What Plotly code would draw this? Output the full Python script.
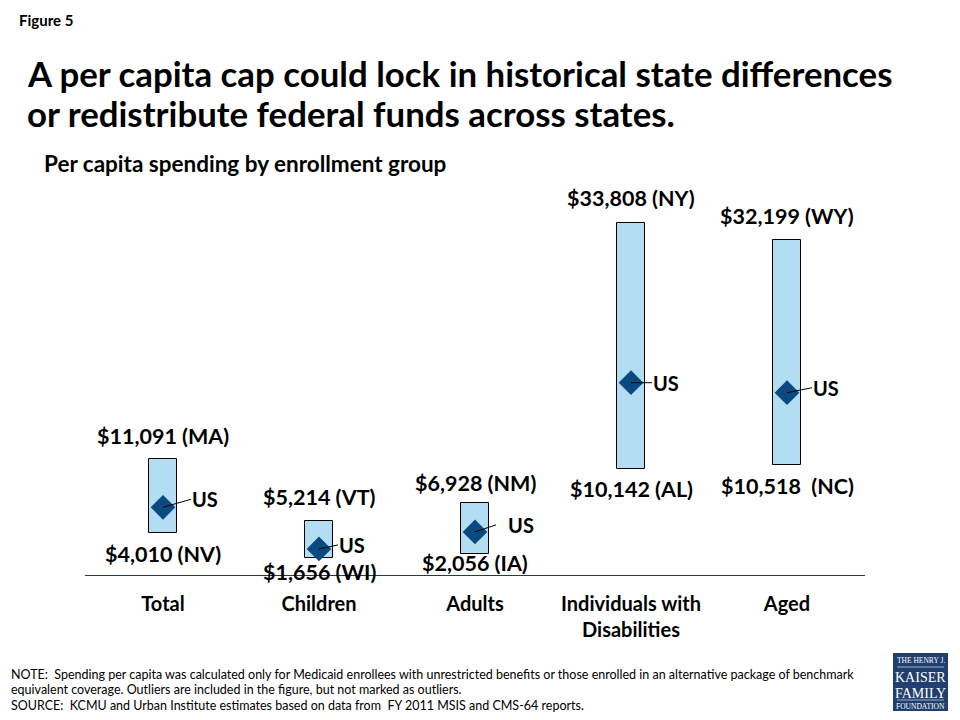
import plotly.graph_objects as go

# ---- data ----
categories = ["Total", "Children", "Adults", "Individuals with<br>Disabilities", "Aged"]
min_values = [4010, 1656, 2056, 10142, 10518]
max_values = [11091, 5214, 6928, 33808, 32199]
min_states = ["NV", "WI", "IA", "AL", "NC"]
max_states = ["MA", "VT", "NM", "NY", "WY"]
us_values = [6500, 2500, 4140, 18460, 17500]

FONT = "Lato"
BAR_FILL = "#b3ddf3"
DIAMOND = "#0b4a80"
TEXT = "#000000"

# page offset (browser body margin) -- positions below are page pixels
OFF = 8
W, H = 960 - OFF, 720 - OFF
L, R, T, B = 85 - OFF, 95, 200 - OFF, 145
pw, ph = W - L - R, H - T - B


def px(xp):
    return (xp - OFF - L) / pw


def py(yp):
    return (H - (yp - OFF) - B) / ph


fig = go.Figure()

fig.add_trace(go.Bar(
    x=categories,
    y=[mx - mn for mx, mn in zip(max_values, min_values)],
    base=min_values,
    width=0.175,
    marker=dict(color=BAR_FILL, line=dict(color="#000000", width=1)),
    hoverinfo="skip",
    showlegend=False,
))

fig.add_trace(go.Scatter(
    x=categories,
    y=us_values,
    mode="markers",
    marker=dict(symbol="diamond", size=19, color=DIAMOND, line=dict(width=0)),
    showlegend=False,
    hoverinfo="skip",
))

# label offsets (pixels) -- styling only
max_shift = [8, 9, 5, 10, 9]
min_shift = [-6, 1, 6, -5, -6]
us_ax = [28, 19, 21, 21, 25]
us_ay = [-8, -4, -7, 0, -5]
us_text = ["US", "US", "&#8202;&#8202;&#8202;&#8202;&#8202; US", "US", "US"]
min_fmt = ["${:,} ({})", "${:,} ({})", "${:,} ({})", "${:,} ({})", "${:,}  ({})"]

VAL_SIZE = 21.5
annotations = []
for i, c in enumerate(categories):
    annotations.append(dict(
        x=c, y=max_values[i], xref="x", yref="y",
        text=f"<b>${max_values[i]:,} ({max_states[i]})</b>",
        showarrow=False, yanchor="bottom", yshift=max_shift[i],
        font=dict(family=FONT, size=VAL_SIZE, color=TEXT),
    ))
    annotations.append(dict(
        x=c, y=min_values[i], xref="x", yref="y",
        text="<b>" + min_fmt[i].format(min_values[i], min_states[i]).replace("  ", "&nbsp; ") + "</b>",
        showarrow=False, yanchor="top", yshift=min_shift[i],
        font=dict(family=FONT, size=VAL_SIZE, color=TEXT),
    ))
    annotations.append(dict(
        x=c, y=us_values[i], xref="x", yref="y",
        text="<b>" + us_text[i] + "</b>", showarrow=True, arrowhead=0, arrowwidth=1,
        arrowcolor="#000000", ax=us_ax[i], ay=us_ay[i], standoff=0,
        xanchor="left", yanchor="middle", borderpad=0,
        font=dict(family=FONT, size=20, color=TEXT),
    ))


def page_text(text, x, y, size, bold=False, family=FONT, anchor="left", color=TEXT):
    return dict(text=f"<b>{text}</b>" if bold else text, x=px(x), y=py(y),
                xref="paper", yref="paper", showarrow=False,
                xanchor=anchor, yanchor="middle",
                font=dict(family=family, size=size, color=color))


annotations += [
    page_text("Figure 5", 17, 20, 15, bold=True),
    page_text("A per capita cap could lock in historical state differences", 25, 73, 34.8, bold=True),
    page_text("or redistribute federal funds across states.", 25, 113, 34.8, bold=True),
    page_text("Per capita spending by enrollment group", 42, 163, 22.5, bold=True),
    page_text("NOTE:  Spending per capita was calculated only for Medicaid enrollees with unrestricted benefits or those enrolled in an alternative package of benchmark",
              9, 674, 12.5),
    page_text("equivalent coverage. Outliers are included in the figure, but not marked as outliers.",
              9, 689, 12.5),
    page_text("SOURCE:  KCMU and Urban Institute estimates based on data from  FY 2011 MSIS and CMS-64 reports.",
              9, 705, 12.5),
]

# logo text
annotations += [
    page_text("THE HENRY J.", 920.5, 660, 7.5, family="Liberation Serif", anchor="center", color="white"),
    page_text("KAISER", 920.5, 677, 14, family="Liberation Serif", anchor="center", color="white"),
    page_text("FAMILY", 920.5, 693, 14, family="Liberation Serif", anchor="center", color="white"),
    page_text("FOUNDATION", 920.5, 706, 7.5, family="Liberation Serif", anchor="center", color="white"),
]

fig.update_layout(
    width=W, height=H,
    margin=dict(l=L, r=R, t=T, b=B),
    paper_bgcolor="white", plot_bgcolor="white",
    bargap=0,
    xaxis=dict(
        type="category", showline=True, linecolor="#1f3a5c", linewidth=1,
        ticks="", showgrid=False, zeroline=False,
        tickfont=dict(family=FONT, size=20, color=TEXT),
        tickvals=categories,
        ticktext=["<b>" + c + "</b>" for c in categories],
        ticklabelstandoff=11,
    ),
    yaxis=dict(range=[0, 36000], visible=False, showgrid=False, zeroline=False),
    font=dict(family=FONT),
    annotations=annotations,
)

fig.add_shape(type="rect", xref="paper", yref="paper",
              x0=px(893), x1=px(948), y0=py(711), y1=py(653),
              fillcolor="#203f6f", line=dict(width=0))
for yy in (667, 700):
    fig.add_shape(type="line", xref="paper", yref="paper",
                  x0=px(897), x1=px(944), y0=py(yy), y1=py(yy),
                  line=dict(color="white", width=0.6))

fig.write_html("out.html")
